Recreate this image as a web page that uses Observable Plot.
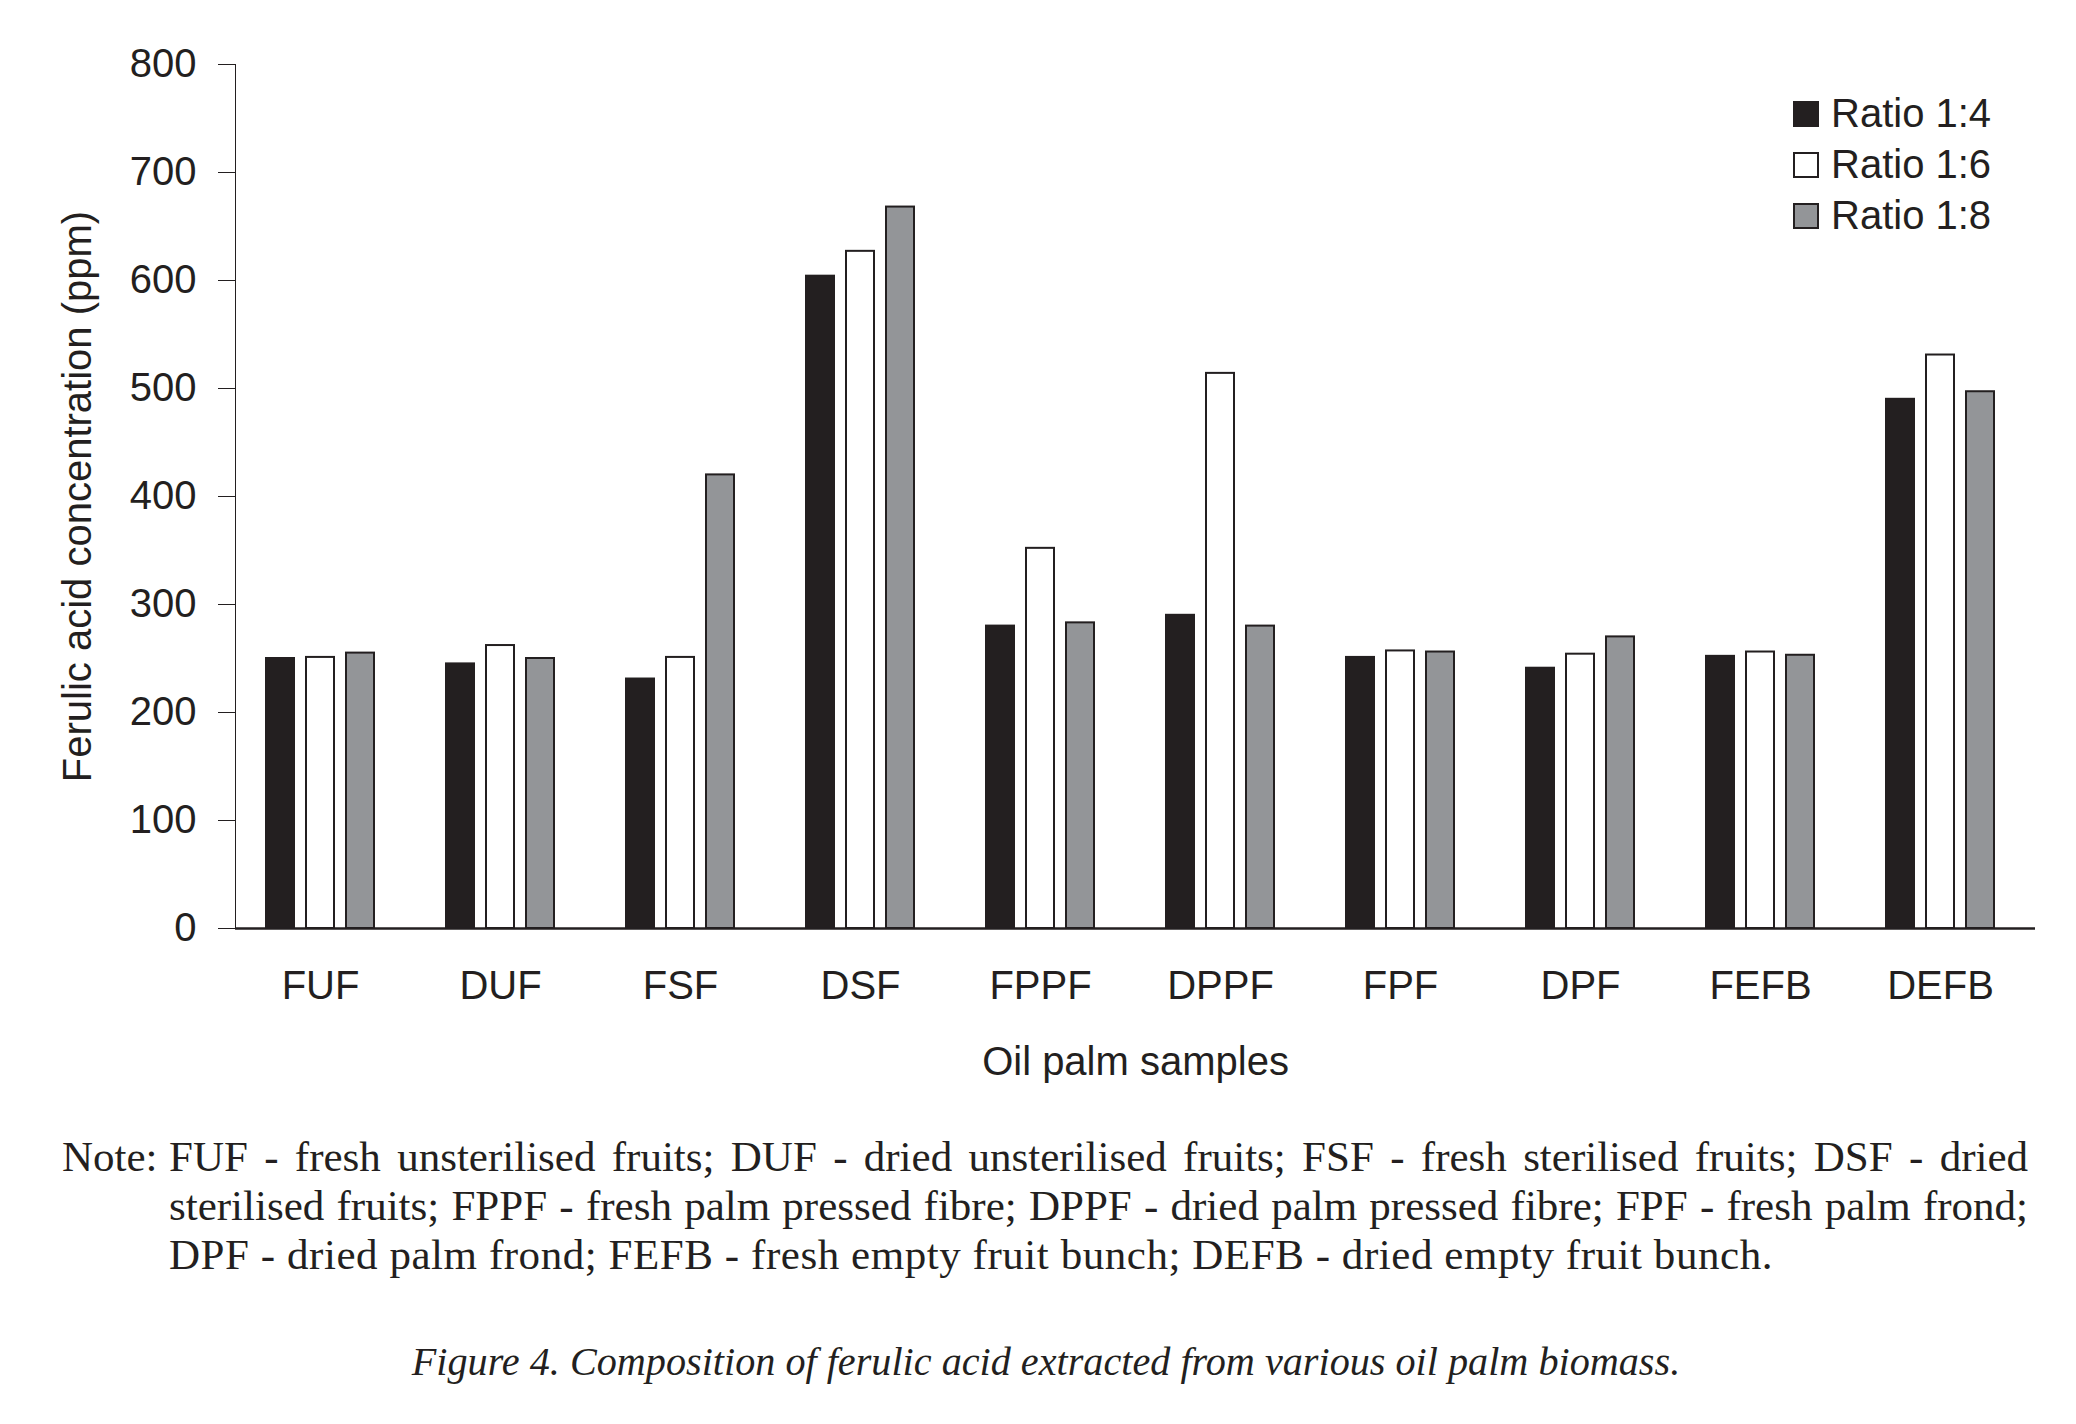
<!DOCTYPE html>
<html>
<head>
<meta charset="utf-8">
<script src="https://cdn.jsdelivr.net/npm/d3@7"></script>
<script src="https://cdn.jsdelivr.net/npm/@observablehq/plot@0.6"></script>
<style>
  html, body { margin: 0; padding: 0; background: #ffffff; }
  #wrap { position: relative; width: 2076px; height: 1424px; background: #ffffff; color: #231f20; }
  #chart { position: absolute; left: 0; top: 0; }
  #legend { position: absolute; left: 1793px; top: 88px; font-family: "Liberation Sans", Arial, sans-serif; font-size: 40px; color: #231f20; }
  .item { display: flex; align-items: center; height: 51px; }
  .sw { width: 22px; height: 22px; border: 2px solid #231f20; margin-right: 12px; }
  #note { position: absolute; left: 62px; top: 1132px; width: 1966px; font-family: "Liberation Serif", "Times New Roman", serif; font-size: 43px; line-height: 49px; color: #231f20; }
  #note .lab { position: absolute; left: 0; top: 0; }
  #note .body { margin-left: 107px; }
  #note .j { text-align: justify; text-align-last: justify; white-space: nowrap; }
  #note .last { letter-spacing: 0.55px; white-space: nowrap; }
  #caption { position: absolute; left: 0; width: 2092px; top: 1336px; text-align: center; font-family: "Liberation Serif", "Times New Roman", serif; font-style: italic; font-size: 40.2px; line-height: 52px; color: #231f20; }
</style>
</head>
<body>
<div id="wrap">
  <div id="chart"></div>
  <div id="legend"></div>
  <div id="note"></div>
  <div id="caption"></div>
</div>
<script>
// ---- data ----
const categories = ["FUF", "DUF", "FSF", "DSF", "FPPF", "DPPF", "FPF", "DPF", "FEFB", "DEFB"];
const ratios = ["Ratio 1:4", "Ratio 1:6", "Ratio 1:8"];
const ratio14 = [250, 245, 231, 604, 280, 290, 251, 241, 252, 490];
const ratio16 = [251, 262, 251, 627, 352, 514, 257, 254, 256, 531];
const ratio18 = [255, 250, 420, 668, 283, 280, 256, 270, 253, 497];
const yTicks = [0, 100, 200, 300, 400, 500, 600, 700, 800];
const ratioColors = ["#231f20", "#ffffff", "#939598"];
const yTitle = "Ferulic acid concentration (ppm)";
const xTitle = "Oil palm samples";
const noteLines = [
  "FUF - fresh unsterilised fruits; DUF - dried unsterilised fruits; FSF - fresh sterilised fruits; DSF - dried",
  "sterilised fruits; FPPF - fresh palm pressed fibre; DPPF - dried palm pressed fibre; FPF - fresh palm frond;",
  "DPF - dried palm frond; FEFB - fresh empty fruit bunch; DEFB - dried empty fruit bunch."
];
const captionText = "Figure 4. Composition of ferulic acid extracted from various oil palm biomass.";

// ---- table ----
const series = [ratio14, ratio16, ratio18];
const table = [];
categories.forEach((c, i) => {
  ratios.forEach((r, j) => table.push({sample: c, ratio: r, value: series[j][i]}));
});

const ink = "#231f20";

const chart = Plot.plot({
  width: 2076,
  height: 1100,
  marginTop: 64,
  marginBottom: 172,
  marginLeft: 233,
  marginRight: 40,
  style: {fontFamily: "'Liberation Sans', Arial, sans-serif", fontSize: "40px", color: ink, background: "#ffffff"},
  fx: {domain: categories, padding: 0},
  x: {domain: ratios, paddingInner: 0.3, paddingOuter: 0.874, align: 0.43, axis: null},
  y: {domain: [0, 800], ticks: yTicks, tickSize: 17, tickPadding: 22, line: true,
      label: yTitle, labelAnchor: "center", labelOffset: 173, labelArrow: "none", tickFormat: d => String(d)},
  color: {domain: ratios, range: ratioColors},
  marks: [
    Plot.barY(table, {fx: "sample", x: "ratio", y: "value", fill: "ratio", stroke: ink, strokeWidth: 2}),
    Plot.ruleY([0], {stroke: ink, strokeWidth: 2.5}),
    Plot.axisFx({anchor: "bottom", tickSize: 0, tickPadding: 42, dx: -5,
                 label: xTitle, labelAnchor: "center", labelOffset: 146, labelArrow: "none"})
  ]
});
document.getElementById("chart").appendChild(chart);

// ---- legend ----
const legend = document.getElementById("legend");
ratios.forEach((r, i) => {
  const it = document.createElement("div");
  it.className = "item";
  const sw = document.createElement("div");
  sw.className = "sw";
  sw.style.background = ratioColors[i];
  const t = document.createElement("span");
  t.textContent = r;
  it.appendChild(sw);
  it.appendChild(t);
  legend.appendChild(it);
});

// ---- note ----
const note = document.getElementById("note");
const lab = document.createElement("span");
lab.className = "lab";
lab.textContent = "Note:";
note.appendChild(lab);
const body = document.createElement("div");
body.className = "body";
noteLines.forEach((l, i) => {
  const d = document.createElement("div");
  d.className = i < noteLines.length - 1 ? "j" : "last";
  d.textContent = l;
  body.appendChild(d);
});
note.appendChild(body);

document.getElementById("caption").textContent = captionText;
</script>
</body>
</html>
